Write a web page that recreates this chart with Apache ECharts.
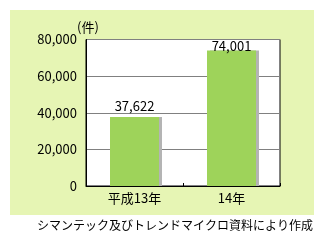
<!DOCTYPE html>
<html>
<head>
<meta charset="utf-8">
<script src="https://cdn.jsdelivr.net/npm/echarts@6/dist/echarts.min.js"></script>
<style>
html,body{margin:0;padding:0;background:#fff;}
#c{width:324px;height:242px;}
</style>
</head>
<body>
<div id="c"></div>
<script>
var categories = ['平成13年', '14年'];
var values = [37622, 74001];
var yTicks = {min: 0, max: 80000, interval: 20000};
var unitLabel = '(件)';
var sourceText = 'シマンテック及びトレンドマイクロ資料により作成';

var FONT = '"Noto Sans CJK JP", "DejaVu Sans", sans-serif';
var labelDistances = [5, -2];
var chart = echarts.init(document.getElementById('c'), null, {renderer: 'canvas'});
chart.setOption({
  animation: false,
  backgroundColor: '#ffffff',
  graphic: [
    {type: 'rect', z: -100, shape: {x: 10, y: 10, width: 304, height: 205}, style: {fill: '#e6f5b4'}},
    {type: 'text', right: 11, top: 219, style: {text: sourceText, font: '12px ' + FONT, fill: '#000', textAlign: 'right'}}
  ],
  grid: {left: 86, right: 44, top: 39.5, bottom: 56, show: true, backgroundColor: '#ffffff', borderColor: '#000', borderWidth: 1, containLabel: false},
  xAxis: {
    type: 'category',
    data: categories,
    axisLine: {show: true, lineStyle: {color: '#000', width: 1}},
    axisTick: {show: true, inside: true, length: 3, lineStyle: {color: '#000'}},
    axisLabel: {color: '#000', fontSize: 13, fontFamily: FONT, margin: 6}
  },
  yAxis: {
    type: 'value',
    min: yTicks.min, max: yTicks.max, interval: yTicks.interval,
    name: unitLabel,
    nameLocation: 'end',
    nameGap: 5,
    nameTextStyle: {color: '#000', fontSize: 13, fontFamily: FONT, align: 'center', padding: [0, 0, 0, 4]},
    axisLine: {show: true, lineStyle: {color: '#000'}},
    axisTick: {show: false},
    splitLine: {show: true, lineStyle: {color: '#808080', width: 1}},
    axisLabel: {color: '#000', fontSize: 13, fontFamily: FONT, margin: 9}
  },
  series: [{
    type: 'bar',
    data: values.map(function (v, i) { return {value: v, label: {distance: labelDistances[i]}}; }),
    barWidth: 49,
    itemStyle: {color: '#9ed35a', shadowColor: '#b4b4b4', shadowOffsetX: 3, shadowOffsetY: 0, shadowBlur: 0},
    label: {show: true, position: 'top', color: '#000', fontSize: 13, fontFamily: FONT,
      formatter: function (p) { return p.value.toLocaleString('en-US'); }}
  }]
});
</script>
</body>
</html>
